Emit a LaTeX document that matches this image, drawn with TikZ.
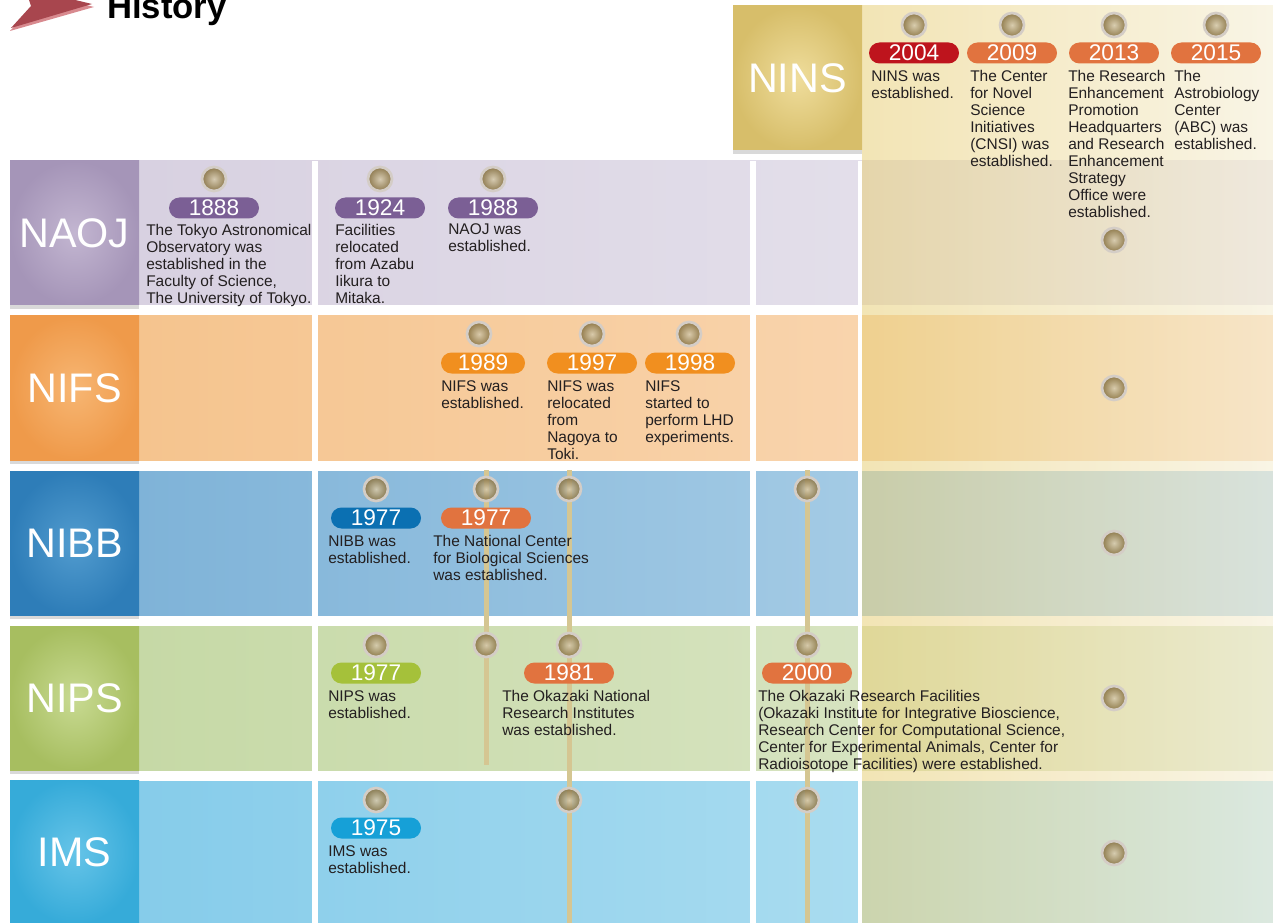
\documentclass[tikz,border=0pt]{standalone}
\usepackage{fontspec}
\setmainfont{Liberation Sans}
\usetikzlibrary{shapes.misc,shadows}

\definecolor{evtext}{HTML}{231F20}
\definecolor{beadring}{HTML}{D4CDC6}
\definecolor{beadlight}{HTML}{D6CAAC}
\definecolor{beaddark}{HTML}{86703F}
\definecolor{rodcol}{HTML}{D5C692}
\definecolor{chevdark}{HTML}{A8464E}
\definecolor{chevlight}{HTML}{D88A8F}
\definecolor{naojpill}{HTML}{7B5F95}
\definecolor{nifspill}{HTML}{F18F1F}
\definecolor{nibbpill}{HTML}{0B70B2}
\definecolor{nipspill}{HTML}{A5C13A}
\definecolor{imspill}{HTML}{16A0D7}
\definecolor{orgpill}{HTML}{E1733F}
\definecolor{redpill}{HTML}{BE141D}
\definecolor{naojL}{HTML}{D8D1E1}
\definecolor{naojR}{HTML}{E9E6EF}
\definecolor{nifsL}{HTML}{F5C48E}
\definecolor{nifsR}{HTML}{FBDDBE}
\definecolor{nibbL}{HTML}{7FB3D8}
\definecolor{nibbR}{HTML}{B8D8EC}
\definecolor{nipsL}{HTML}{C6D9A6}
\definecolor{nipsR}{HTML}{E0E9CF}
\definecolor{imsL}{HTML}{86CCEA}
\definecolor{imsR}{HTML}{BDE5F3}
\definecolor{ninsL}{HTML}{E8CF78}
\definecolor{ninsR}{HTML}{F4ECD0}
\definecolor{naojIn}{HTML}{C3B6D1}
\definecolor{naojOut}{HTML}{A595B8}
\definecolor{nifsIn}{HTML}{F7B673}
\definecolor{nifsOut}{HTML}{EF9A4A}
\definecolor{nibbIn}{HTML}{529CCF}
\definecolor{nibbOut}{HTML}{2E7DB8}
\definecolor{nipsIn}{HTML}{C8DA92}
\definecolor{nipsOut}{HTML}{A7BE60}
\definecolor{imsIn}{HTML}{66C4E8}
\definecolor{imsOut}{HTML}{36ABD9}
\definecolor{ninsIn}{HTML}{EFDD9C}
\definecolor{ninsOut}{HTML}{D7BE6A}

\tikzset{
  bead/.style={circle, minimum size=18pt, inner sep=0pt, draw=beadring, line width=2pt,
    inner color=beadlight, outer color=beaddark, fill opacity=.9},
  pill/.style={rounded rectangle, minimum width=67.5pt, minimum height=15.75pt, inner sep=0pt,
    text=white, font=\fontsize{17}{17}\selectfont},
  evt/.style={anchor=north west, align=left, inner sep=0pt, text=evtext,
    font=\fontsize{11.6}{12.75}\selectfont},
  lblbox/.style={minimum width=96.75pt, minimum height=108pt, inner sep=0pt,
    drop shadow={shadow xshift=0pt, shadow yshift=-3pt, opacity=.3}},
  lbltxt/.style={inner sep=0pt, text=white, font=\fontsize{31}{31}\selectfont},
  rod/.style={draw=rodcol, line width=3.75pt},
}

\begin{document}
\begin{tikzpicture}[x=0.75pt, y=-0.75pt]
  \useasboundingbox (0,0) rectangle (1273,923);

  \fill[chevlight] (27,-10) -- (94,7) -- (10,31) -- (32,9) -- cycle;
  \fill[chevdark] (25,-12) -- (92,4) -- (11,28) -- (31,6) -- cycle;
  \node[anchor=base west, inner sep=0pt, font=\bfseries\fontsize{26}{26}\selectfont] (hist) at (107,19) {History};

  \shade[left color=naojL, right color=naojR] (139,161) rectangle (1273,305);
  \shade[left color=nifsL, right color=nifsR] (139,316) rectangle (1273,460);
  \shade[left color=nibbL, right color=nibbR] (139,471) rectangle (1273,615);
  \shade[left color=nipsL, right color=nipsR] (139,626) rectangle (1273,770);
  \shade[left color=imsL, right color=imsR] (139,781) rectangle (1273,923);
  \fill[white] (312,161) rectangle (318,923);
  \fill[white] (750,161) rectangle (756,923);
  \fill[white] (858,161) rectangle (862,923);
  \shade[left color=ninsL, right color=ninsR, fill opacity=.55] (862,6) rectangle (1273,923);

  \node[lblbox, inner color=naojIn, outer color=naojOut] (naoj) at (74.5,233) {};
  \node[lblbox, inner color=nifsIn, outer color=nifsOut] (nifs) at (74.5,388) {};
  \node[lblbox, inner color=nibbIn, outer color=nibbOut] (nibb) at (74.5,543) {};
  \node[lblbox, inner color=nipsIn, outer color=nipsOut] (nips) at (74.5,698) {};
  \node[lblbox, inner color=imsIn, outer color=imsOut] (ims) at (74.5,852) {};
  \node[lblbox, inner color=ninsIn, outer color=ninsOut] (nins) at (797.5,78) {};
  \node[lbltxt] (naojtx) at (naoj) {NAOJ};
  \node[lbltxt] (nifstx) at (nifs) {NIFS};
  \node[lbltxt] (nibbtx) at (nibb) {NIBB};
  \node[lbltxt] (nipstx) at (nips) {NIPS};
  \node[lbltxt] (imstx) at (ims) {IMS};
  \node[lbltxt] (ninstx) at (nins) {NINS};

  \coordinate (rodAtop) at (486,470);
  \coordinate (rodAbot) at (486,765);
  \coordinate (rodBtop) at (569,470);
  \coordinate (rodBbot) at (569,923);
  \coordinate (rodCtop) at (807,470);
  \coordinate (rodCbot) at (807,923);
  \draw[rod] (rodAtop) -- (rodAbot);
  \draw[rod] (rodBtop) -- (rodBbot);
  \draw[rod] (rodCtop) -- (rodCbot);

  \node[bead] (b2004) at (914,25) {};
  \node[bead] (b2009) at (1012,25) {};
  \node[bead] (b2013) at (1114,25) {};
  \node[bead] (b2015) at (1216,25) {};
  \node[bead] (b1888) at (214,179) {};
  \node[bead] (b1924) at (380,179) {};
  \node[bead] (b1988) at (493,179) {};
  \node[bead] (b1989) at (479,334) {};
  \node[bead] (b1997) at (592,334) {};
  \node[bead] (b1998) at (689,334) {};
  \node[bead] (bnibb) at (376,489) {};
  \node[bead] (bncbs) at (486,489) {};
  \node[bead] (bnibbB) at (569,489) {};
  \node[bead] (bnibbC) at (807,489) {};
  \node[bead] (bnips) at (376,645) {};
  \node[bead] (bnipsA) at (486,645) {};
  \node[bead] (b1981) at (569,645) {};
  \node[bead] (b2000) at (807,645) {};
  \node[bead] (b1975) at (376,800) {};
  \node[bead] (bimsB) at (569,800) {};
  \node[bead] (bimsC) at (807,800) {};
  \node[bead] (bnaojN) at (1114,240) {};
  \node[bead] (bnifsN) at (1114,388) {};
  \node[bead] (bnibbN) at (1114,543) {};
  \node[bead] (bnipsN) at (1114,698) {};
  \node[bead] (bimsN) at (1114,853) {};

  \node[pill, fill=redpill] (p2004) at (914,53) {2004};
  \node[pill, fill=orgpill] (p2009) at (1012,53) {2009};
  \node[pill, fill=orgpill] (p2013) at (1114,53) {2013};
  \node[pill, fill=orgpill] (p2015) at (1216,53) {2015};
  \node[pill, fill=naojpill] (p1888) at (214,208) {1888};
  \node[pill, fill=naojpill] (p1924) at (380,208) {1924};
  \node[pill, fill=naojpill] (p1988) at (493,208) {1988};
  \node[pill, fill=nifspill, minimum width=63pt] (p1989) at (483,363) {1989};
  \node[pill, fill=nifspill] (p1997) at (592,363) {1997};
  \node[pill, fill=nifspill] (p1998) at (690,363) {1998};
  \node[pill, fill=nibbpill] (p1977a) at (376,518) {1977};
  \node[pill, fill=orgpill] (p1977b) at (486,518) {1977};
  \node[pill, fill=nipspill] (p1977c) at (376,673) {1977};
  \node[pill, fill=orgpill] (p1981) at (569,673) {1981};
  \node[pill, fill=orgpill] (p2000) at (807,673) {2000};
  \node[pill, fill=imspill] (p1975) at (376,828) {1975};

  \node[evt] (t2004) at (871,70.5) {NINS was\\established.};
  \node[evt] (t2009) at (970,70.5) {The Center\\for Novel\\Science\\Initiatives\\(CNSI) was\\established.};
  \node[evt] (t2013) at (1068,70.5) {The Research\\Enhancement\\Promotion\\Headquarters\\and Research\\Enhancement\\Strategy\\Office were\\established.};
  \node[evt] (t2015) at (1174,70.5) {The\\Astrobiology\\Center\\(ABC) was\\established.};
  \node[evt] (t1888) at (146,223.7) {The Tokyo Astronomical\\Observatory was\\established in the\\Faculty of Science,\\The University of Tokyo.};
  \node[evt] (t1924) at (335,223.7) {Facilities\\relocated\\from Azabu\\Iikura to\\Mitaka.};
  \node[evt] (t1988) at (448,223.7) {NAOJ was\\established.};
  \node[evt] (t1989) at (441,380.5) {NIFS was\\established.};
  \node[evt] (t1997) at (547,380.5) {NIFS was\\relocated\\from\\Nagoya to\\Toki.};
  \node[evt] (t1998) at (645,380.5) {NIFS\\started to\\perform LHD\\experiments.};
  \node[evt] (t1977a) at (328,535.5) {NIBB was\\established.};
  \node[evt] (t1977b) at (433,535.5) {The National Center\\for Biological Sciences\\was established.};
  \node[evt] (t1977c) at (328,690.5) {NIPS was\\established.};
  \node[evt] (t1981) at (502,690.5) {The Okazaki National\\Research Institutes\\was established.};
  \node[evt] (t2000) at (758,690.5) {The Okazaki Research Facilities\\(Okazaki Institute for Integrative Bioscience,\\Research Center for Computational Science,\\Center for Experimental Animals, Center for\\Radioisotope Facilities) were established.};
  \node[evt] (t1975) at (328,845.5) {IMS was\\established.};
\end{tikzpicture}
\end{document}
